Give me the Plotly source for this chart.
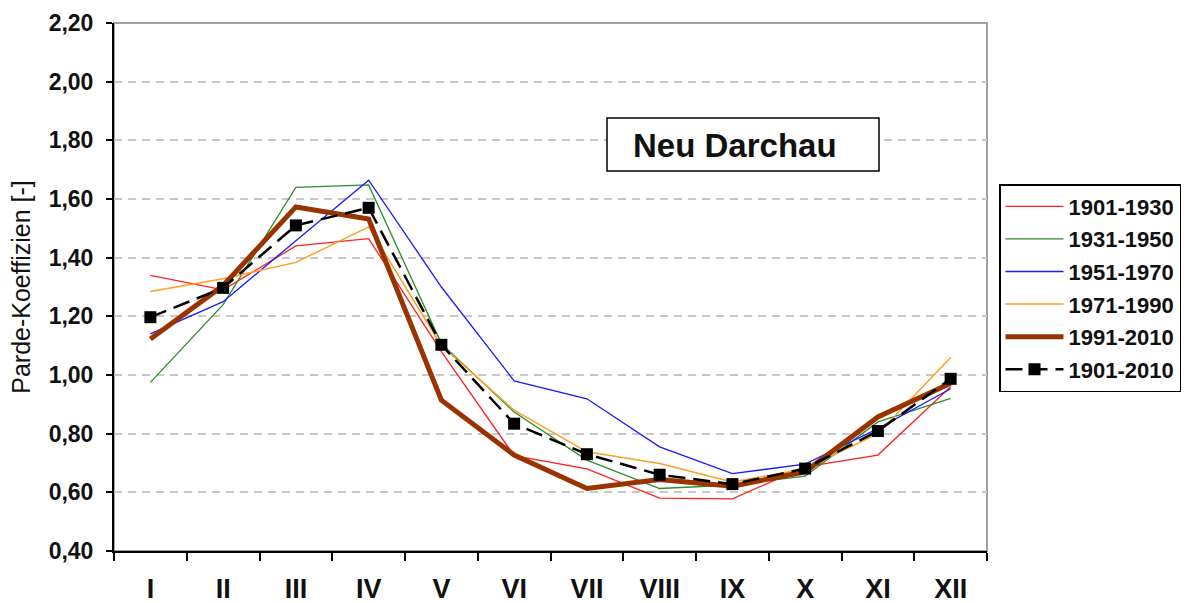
import plotly.graph_objects as go

months = ["I", "II", "III", "IV", "V", "VI", "VII", "VIII", "IX", "X", "XI", "XII"]

s_1901_1930 = [1.34, 1.29, 1.44, 1.465, 1.08, 0.725, 0.68, 0.58, 0.578, 0.687, 0.727, 0.96]
s_1931_1950 = [0.975, 1.24, 1.64, 1.648, 1.107, 0.874, 0.71, 0.613, 0.625, 0.655, 0.84, 0.92]
s_1951_1970 = [1.14, 1.25, 1.458, 1.664, 1.30, 0.98, 0.919, 0.755, 0.664, 0.696, 0.817, 0.953]
s_1971_1990 = [1.285, 1.328, 1.384, 1.505, 1.10, 0.88, 0.738, 0.698, 0.635, 0.68, 0.80, 1.06]
s_1991_2010 = [1.123, 1.305, 1.573, 1.532, 0.914, 0.727, 0.613, 0.644, 0.621, 0.670, 0.857, 0.972]
s_1901_2010 = [1.197, 1.297, 1.51, 1.57, 1.103, 0.834, 0.730, 0.66, 0.628, 0.681, 0.809, 0.987]

y_ticks = [0.4, 0.6, 0.8, 1.0, 1.2, 1.4, 1.6, 1.8, 2.0, 2.2]

FONT = "Liberation Sans, Arial, sans-serif"
TXT = "#111111"

series = [
    ("1901-1930", s_1901_1930, dict(color="#ff2020", width=1.3), None),
    ("1931-1950", s_1931_1950, dict(color="#2e8b2e", width=1.3), None),
    ("1951-1970", s_1951_1970, dict(color="#1a1aff", width=1.3), None),
    ("1971-1990", s_1971_1990, dict(color="#ffa020", width=1.5), None),
    ("1991-2010", s_1991_2010, dict(color="#993300", width=5), None),
    ("1901-2010", s_1901_2010, dict(color="#000000", width=2.5, dash="17px,8px"),
     dict(symbol="square", size=12, color="#000000")),
]

fig = go.Figure()
for name, vals, line, marker in series:
    fig.add_trace(go.Scatter(
        x=months, y=vals, name=name, legendgroup=name,
        mode="lines+markers" if marker else "lines",
        line=line, marker=marker,
    ))

fig.update_layout(
    width=1187, height=603,
    margin=dict(l=114, r=200, t=23, b=52, autoexpand=False),
    paper_bgcolor="white", plot_bgcolor="white",
    separators=",.",
    font=dict(family=FONT, color=TXT),
    showlegend=True,
    legend=dict(
        xref="container", yref="container",
        x=999 / 1187, y=1 - 184 / 603, xanchor="left", yanchor="top",
        bordercolor="#000000", borderwidth=1.5, bgcolor="white",
        font=dict(family=FONT, size=22, color=TXT, weight="bold"),
        traceorder="grouped", tracegroupgap=1, itemwidth=58,
    ),
    shapes=[
        dict(type="rect", xref="paper", yref="paper", x0=0, x1=1, y0=0, y1=1,
             line=dict(color="#a0a0a0", width=2), layer="below"),
        dict(type="rect", xref="paper", yref="paper",
             x0=(607 - 114) / 873, x1=(879 - 114) / 873,
             y0=(551 - 171) / 528, y1=(551 - 118) / 528,
             line=dict(color="#000000", width=1.5), fillcolor="white", layer="above"),
    ],
    annotations=[
        dict(text="<b>Neu Darchau</b>", xref="paper", yref="paper",
             x=(631 - 114) / 873, y=(551 - 146) / 528, xanchor="left", yanchor="middle",
             showarrow=False, font=dict(family=FONT, size=33, color=TXT)),
    ],
)

fig.update_xaxes(
    type="category", range=[-0.5, 11.5], automargin=False,
    tickson="boundaries", ticks="outside", ticklen=8, tickwidth=2, tickcolor="#000",
    showline=True, linecolor="#000", linewidth=2,
    showgrid=False, ticklabelstandoff=13,
    tickfont=dict(family=FONT, size=27, color=TXT, weight="bold"),
)
fig.update_yaxes(
    range=[0.4, 2.2], tickvals=y_ticks, tickformat=".2f", automargin=False,
    ticks="outside", ticklen=6, tickwidth=2, tickcolor="#000",
    showline=True, linecolor="#000", linewidth=2,
    showgrid=True, gridcolor="#c8c8c8", gridwidth=1.5, griddash="8px,6px",
    zeroline=False, ticklabelstandoff=8,
    tickfont=dict(family=FONT, size=23, color=TXT, weight="bold"),
    title=dict(text="Parde-Koeffizien [-]", standoff=11,
               font=dict(family=FONT, size=25, color=TXT)),
)

fig.write_html("out.html", config={"displayModeBar": False},
               post_script="document.body.style.margin='0';")
